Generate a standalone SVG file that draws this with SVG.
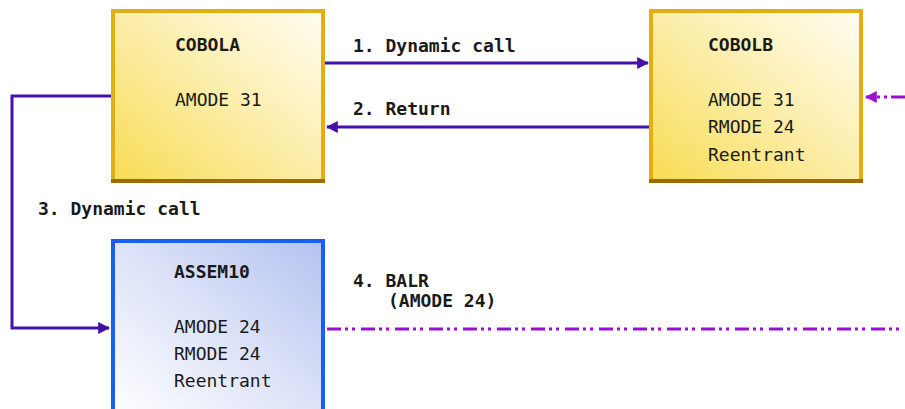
<svg xmlns="http://www.w3.org/2000/svg" width="905" height="409" viewBox="0 0 905 409">
<defs>
<linearGradient id="gy" x1="0" y1="1" x2="1" y2="0">
<stop offset="0" stop-color="#f8dc54"/>
<stop offset="0.55" stop-color="#fcefb0"/>
<stop offset="1" stop-color="#fffdf2"/>
</linearGradient>
<linearGradient id="gb" x1="0" y1="1" x2="1" y2="0">
<stop offset="0" stop-color="#ffffff"/>
<stop offset="0.5" stop-color="#dde3f8"/>
<stop offset="1" stop-color="#b4c2f0"/>
</linearGradient>
<marker id="ah" viewBox="0 0 10 10" refX="9" refY="5" markerWidth="4" markerHeight="4" orient="auto" markerUnits="strokeWidth">
<path d="M0,0 L10,5 L0,10 z" fill="#4410a8"/>
</marker>
<marker id="ahm" viewBox="0 0 10 10" refX="9" refY="5" markerWidth="4" markerHeight="4" orient="auto" markerUnits="strokeWidth">
<path d="M0,0 L10,5 L0,10 z" fill="#9a10d0"/>
</marker>
<style>
.t{font-family:"DejaVu Sans Mono","Liberation Mono",monospace;font-size:18px;fill:#1a1a1a}
.b{font-weight:bold}
.ybox{fill:url(#gy);stroke:#e2ae14;stroke-width:4}
.bbox{fill:url(#gb);stroke:#1c5ef2;stroke-width:4}
.ybot{stroke:#9c6c08;stroke-width:4}
.c{fill:none;stroke:#4410a8;stroke-width:3}
.d{fill:none;stroke:#9a10d0;stroke-width:3;stroke-dasharray:14 4 3 4 3 6}
</style>
</defs>
<g id="connectors">
<line class="c" x1="325" y1="63" x2="648" y2="63" marker-end="url(#ah)"/>
<line class="c" x1="649" y1="127" x2="327" y2="127" marker-end="url(#ah)"/>
<polyline class="c" points="111,96 12,96 12,328 109,328" marker-end="url(#ah)"/>
<line class="d" x1="327" y1="329" x2="905" y2="329"/>
<line class="d" x1="905" y1="97" x2="866" y2="97" marker-end="url(#ahm)"/>
<text class="t b" x="353" y="52">1. Dynamic call</text>
<text class="t b" x="353" y="115">2. Return</text>
<text class="t b" x="38" y="215">3. Dynamic call</text>
<text class="t b" x="353" y="287">4. BALR</text>
<text class="t b" x="388" y="307">(AMODE 24)</text>
</g>
<g id="COBOLA">
<rect class="ybox" x="113" y="11" width="210" height="170"/>
<line class="ybot" x1="111" y1="181" x2="325" y2="181"/>
<text class="t b" x="175" y="51">COBOLA</text>
<text class="t" x="175" y="106">AMODE 31</text>
</g>
<g id="COBOLB">
<rect class="ybox" x="651" y="11" width="210" height="170"/>
<line class="ybot" x1="649" y1="181" x2="863" y2="181"/>
<text class="t b" x="708" y="51">COBOLB</text>
<text class="t" x="708" y="106">AMODE 31</text>
<text class="t" x="708" y="133">RMODE 24</text>
<text class="t" x="708" y="161">Reentrant</text>
</g>
<g id="ASSEM10">
<rect class="bbox" x="113" y="241" width="210" height="175"/>
<text class="t b" x="174" y="278">ASSEM10</text>
<text class="t" x="174" y="333">AMODE 24</text>
<text class="t" x="174" y="360">RMODE 24</text>
<text class="t" x="174" y="387">Reentrant</text>
</g>
</svg>
